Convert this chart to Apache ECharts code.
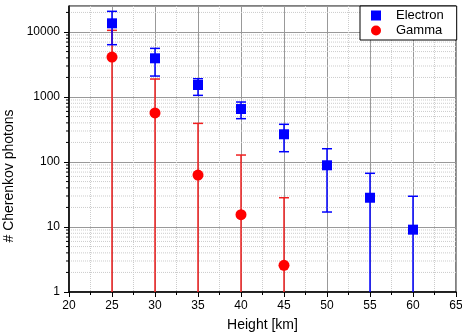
<!DOCTYPE html>
<html>
<head>
<meta charset="utf-8">
<script src="https://cdn.jsdelivr.net/npm/echarts@6/dist/echarts.min.js"></script>
<style>
  html, body { margin: 0; padding: 0; background: #fff; }
  #chart { width: 462px; height: 335px; }
</style>
</head>
<body>
<div id="chart"></div>
<script>
// heights (km)
const electronX = [25, 30, 35, 40, 45, 50, 55, 60]
const electronY = [13600, 3940, 1530, 653, 267, 89, 28.2, 9.1]
const electronLow = [6380, 2100, 1060, 464, 144, 17, null, null]
const electronHigh = [20800, 5600, 1910, 837, 380, 160, 67, 29.7]

const gammaX = [25, 30, 35, 40, 45]
const gammaY = [4120, 568, 63, 15.5, 2.57]
// null = error bar runs below the axis
const gammaLow = [null, null, null, null, null]
const gammaHigh = [10600, 1890, 393, 128, 28.2]

const yMin = 1
const yMax = 25119
const minorY = [2, 3, 4, 5, 6, 7, 8, 9, 20, 30, 40, 50, 60, 70, 80, 90,
  200, 300, 400, 500, 600, 700, 800, 900, 2000, 3000, 4000, 5000, 6000, 7000, 8000, 9000, 20000]

const FONT = 'Liberation Sans, Arial, sans-serif'

const chart = echarts.init(document.getElementById('chart'), null, { renderer: 'canvas' })

function errData(xs, lo, hi) {
  return xs.map((x, i) => [x, lo[i] == null ? yMin : lo[i], hi[i], lo[i] == null ? 0 : 1])
}

function errBar(color) {
  return function(params, api) {
    const x = api.value(0)
    const pLo = api.coord([x, api.value(1)])
    const pHi = api.coord([x, api.value(2)])
    const hasLo = api.value(3)
    const cap = 5
    const style = { stroke: color, lineWidth: 1.5 }
    const children = [
      { type: 'line', shape: { x1: pLo[0], y1: pLo[1], x2: pHi[0], y2: pHi[1] }, style: style },
      { type: 'line', shape: { x1: pHi[0] - cap, y1: pHi[1], x2: pHi[0] + cap, y2: pHi[1] }, style: style }
    ]
    if (hasLo) {
      children.push({ type: 'line', shape: { x1: pLo[0] - cap, y1: pLo[1], x2: pLo[0] + cap, y2: pLo[1] }, style: style })
    }
    return { type: 'group', children: children }
  }
}

const option = {
  backgroundColor: '#fff',
  animation: false,
  textStyle: { fontFamily: FONT },
  grid: {
    left: 69, right: 6, top: 6, bottom: 43,
    show: true, borderColor: '#000', borderWidth: 1,
    containLabel: false, outerBoundsMode: 'none'
  },
  legend: {
    orient: 'vertical',
    left: 360, top: 6,
    backgroundColor: '#fff',
    borderColor: '#000', borderWidth: 1,
    borderRadius: 0,
    padding: [3, 13, 3, 11],
    itemGap: 2,
    itemWidth: 10, itemHeight: 10,
    textStyle: { fontFamily: FONT, fontSize: 13, color: '#000', padding: [0, 0, 0, 10] },
    data: [
      { name: 'Electron', icon: 'rect' },
      { name: 'Gamma', icon: 'circle' }
    ]
  },
  xAxis: {
    type: 'value',
    min: 20, max: 65, interval: 5,
    name: 'Height [km]',
    nameLocation: 'middle',
    nameGap: 26,
    nameTextStyle: { fontFamily: FONT, fontSize: 14, color: '#000' },
    axisLine: { show: true, lineStyle: { color: '#000', width: 1.5 } },
    axisTick: { show: true, inside: false, length: 5, lineStyle: { color: '#000' } },
    minorTick: { show: true, splitNumber: 2, length: 3, lineStyle: { color: '#000' } },
    axisLabel: { fontFamily: FONT, fontSize: 12, color: '#000', margin: 8 },
    splitLine: { show: true, lineStyle: { color: '#999', width: 1 } },
    minorSplitLine: { show: true, lineStyle: { color: '#ccc', type: 'dotted', width: 1 } }
  },
  yAxis: {
    type: 'log',
    logBase: 10,
    min: yMin, max: yMax,
    name: '# Cherenkov photons',
    nameLocation: 'middle',
    nameGap: 42,
    nameTextStyle: { fontFamily: FONT, fontSize: 14, color: '#000', padding: [0, 54, 0, 0] },
    axisLine: { show: true, lineStyle: { color: '#000', width: 1.5 } },
    axisTick: { show: true, inside: false, length: 5, lineStyle: { color: '#000' } },
    axisLabel: {
      fontFamily: FONT, fontSize: 12, color: '#000', margin: 9, showMaxLabel: false,
      formatter: function(v) { return String(Math.round(v)) }
    },
    splitLine: { show: true, lineStyle: { color: '#999', width: 1 } }
  },
  series: [
    {
      // minor log grid + minor ticks
      type: 'custom',
      silent: true,
      clip: false,
      z: 0,
      data: minorY.map(v => [20, v]),
      encode: { x: 0, y: 1 },
      renderItem: function(params, api) {
        const v = api.value(1)
        const pL = api.coord([20, v])
        const pR = api.coord([65, v])
        return {
          type: 'group',
          children: [
            { type: 'line', shape: { x1: pL[0], y1: pL[1], x2: pR[0], y2: pR[1] },
              style: { stroke: '#ccc', lineWidth: 1, lineDash: [1, 1] } },
            { type: 'line', shape: { x1: pL[0] - 3, y1: pL[1], x2: pL[0], y2: pL[1] },
              style: { stroke: '#000', lineWidth: 1 } }
          ]
        }
      }
    },
    {
      name: 'gammaErr',
      type: 'custom',
      z: 2,
      data: errData(gammaX, gammaLow, gammaHigh),
      encode: { x: 0, y: [1, 2] },
      renderItem: errBar('#f02020')
    },
    {
      name: 'electronErr',
      type: 'custom',
      z: 3,
      data: errData(electronX, electronLow, electronHigh),
      encode: { x: 0, y: [1, 2] },
      renderItem: errBar('#0000ff')
    },
    {
      name: 'Gamma',
      type: 'scatter',
      z: 4,
      symbol: 'circle',
      symbolSize: 11,
      itemStyle: { color: '#ff0000', opacity: 1 },
      data: gammaX.map((x, i) => [x, gammaY[i]])
    },
    {
      name: 'Electron',
      type: 'scatter',
      z: 5,
      symbol: 'rect',
      symbolSize: 10,
      itemStyle: { color: '#0000ff', opacity: 1 },
      data: electronX.map((x, i) => [x, electronY[i]])
    }
  ]
}

chart.setOption(option)
window.addEventListener('resize', function() {
  chart.resize()
})
</script>
</body>
</html>
